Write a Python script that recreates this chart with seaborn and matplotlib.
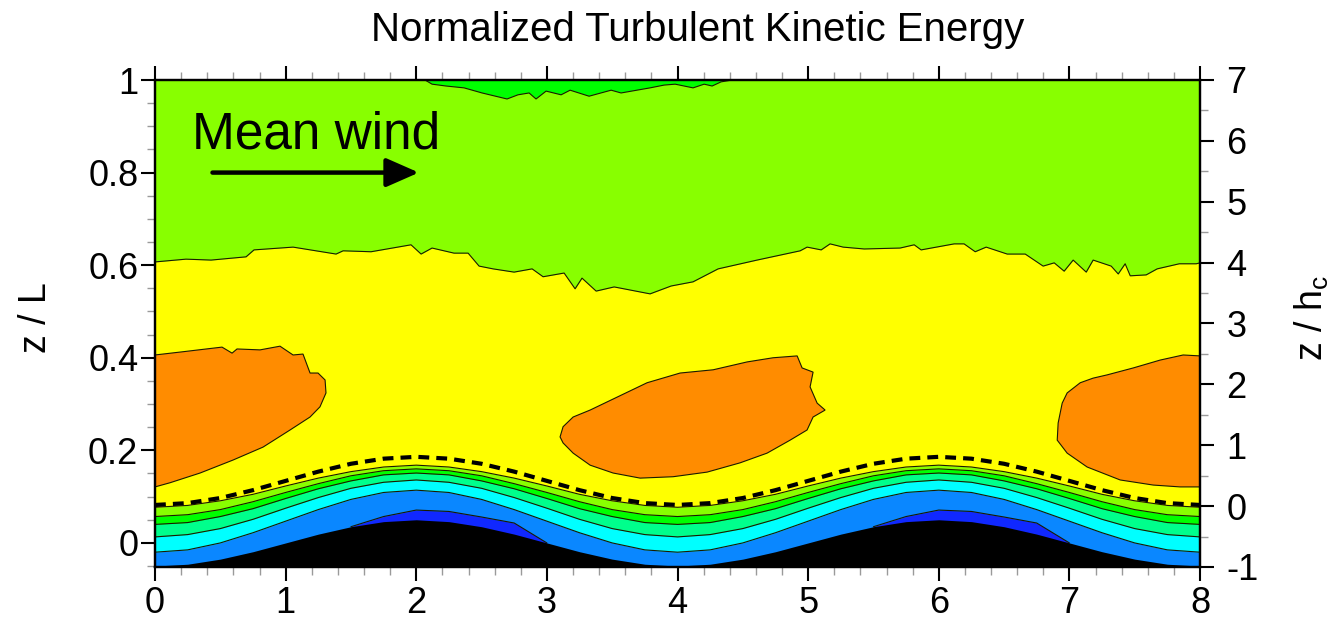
import numpy as np
import matplotlib
matplotlib.use("Agg")
import matplotlib.pyplot as plt
from matplotlib.ticker import MultipleLocator
import seaborn as sns

# ---------------- data ----------------
title = "Normalized Turbulent Kinetic Energy"
annot_text = "Mean wind"
left_label = "z / L"
right_label = "z / h$_\\mathregular{c}$"
x_ticks = [0, 1, 2, 3, 4, 5, 6, 7, 8]
x_ticklabels = ["0", "1", "2", "3", "4", "5", "6", "7", "8"]
zL_ticks = [0, 0.2, 0.4, 0.6, 0.8, 1.0]
zL_ticklabels = ["0", "0.2", "0.4", "0.6", "0.8", "1"]
zh_ticks = [-1, 0, 1, 2, 3, 4, 5, 6, 7]
zh_ticklabels = ["-1", "0", "1", "2", "3", "4", "5", "6", "7"]

# sample positions along x (every 0.25 L)
x_grid = np.linspace(0, 8, 33)

terrain = [-0.050, -0.046, -0.035, -0.019, 0.000, 0.019, 0.035, 0.046, 0.050, 0.046, 0.035,
           0.019, 0.000, -0.019, -0.035, -0.046, -0.050, -0.046, -0.035, -0.019, 0.000, 0.019,
           0.035, 0.046, 0.050, 0.046, 0.035, 0.019, 0.000, -0.019, -0.035, -0.046, -0.050]
blue_top = [-0.020, -0.015, 0.000, 0.022, 0.047, 0.072, 0.094, 0.109, 0.114, 0.109, 0.094,
            0.072, 0.047, 0.022, 0.000, -0.015, -0.020, -0.015, 0.000, 0.022, 0.047, 0.072,
            0.094, 0.109, 0.114, 0.109, 0.094, 0.072, 0.047, 0.022, 0.000, -0.015, -0.020]
cyan_top = [0.013, 0.018, 0.031, 0.051, 0.075, 0.098, 0.118, 0.131, 0.136, 0.131, 0.118,
            0.098, 0.075, 0.051, 0.031, 0.018, 0.013, 0.018, 0.031, 0.051, 0.075, 0.098,
            0.118, 0.131, 0.136, 0.131, 0.118, 0.098, 0.075, 0.051, 0.031, 0.018, 0.013]
aqua_top = [0.040, 0.044, 0.057, 0.074, 0.096, 0.117, 0.134, 0.147, 0.151, 0.147, 0.134,
            0.117, 0.096, 0.074, 0.057, 0.044, 0.040, 0.044, 0.057, 0.074, 0.096, 0.117,
            0.134, 0.147, 0.151, 0.147, 0.134, 0.117, 0.096, 0.074, 0.057, 0.044, 0.040]
green_top = [0.057, 0.061, 0.072, 0.089, 0.109, 0.128, 0.145, 0.156, 0.160, 0.156, 0.145,
             0.128, 0.109, 0.089, 0.072, 0.061, 0.057, 0.061, 0.072, 0.089, 0.109, 0.128,
             0.145, 0.156, 0.160, 0.156, 0.145, 0.128, 0.109, 0.089, 0.072, 0.061, 0.057]
lgreen_top = [0.077, 0.081, 0.091, 0.105, 0.123, 0.140, 0.154, 0.164, 0.168, 0.164, 0.154,
              0.140, 0.123, 0.105, 0.091, 0.081, 0.077, 0.081, 0.091, 0.105, 0.123, 0.140,
              0.154, 0.164, 0.168, 0.164, 0.154, 0.140, 0.123, 0.105, 0.091, 0.081, 0.077]
canopy_top = [0.082, 0.086, 0.097, 0.114, 0.134, 0.154, 0.171, 0.182, 0.186, 0.182, 0.171,
              0.154, 0.134, 0.114, 0.097, 0.086, 0.082, 0.086, 0.097, 0.114, 0.134, 0.154,
              0.171, 0.182, 0.186, 0.182, 0.171, 0.154, 0.134, 0.114, 0.097, 0.086, 0.082]

# thin dark-blue patches on the hill crests
dblue1_x = [1.5, 1.75, 2.0, 2.25, 2.5, 2.75, 3.0]
dblue2_x = [5.5, 5.75, 6.0, 6.25, 6.5, 6.75, 7.0]
dblue_top = [0.035, 0.057, 0.071, 0.068, 0.056, 0.043, 0.000]

# boundary between yellow (below) and light green (above)
gy_x = [0.0, 0.237, 0.429, 0.697, 0.758, 1.057, 1.386, 1.440, 1.654, 1.960, 2.037, 2.121,
        2.289, 2.397, 2.481, 2.588, 2.749, 2.887, 2.971, 3.132, 3.216, 3.269, 3.377, 3.515,
        3.790, 3.951, 4.119, 4.311, 4.609, 4.939, 4.992, 5.100, 5.168, 5.268, 5.429, 5.704,
        5.812, 5.865, 6.118, 6.194, 6.279, 6.363, 6.524, 6.662, 6.799, 6.884, 6.960, 7.029,
        7.129, 7.182, 7.320, 7.374, 7.427, 7.466, 7.588, 7.672, 7.841, 7.971, 8.0]
gy_z = [0.607, 0.613, 0.611, 0.618, 0.633, 0.639, 0.624, 0.631, 0.629, 0.644, 0.624, 0.637,
        0.626, 0.626, 0.598, 0.592, 0.585, 0.592, 0.575, 0.583, 0.549, 0.572, 0.544, 0.553,
        0.538, 0.555, 0.564, 0.592, 0.611, 0.631, 0.639, 0.633, 0.646, 0.639, 0.635, 0.637,
        0.644, 0.633, 0.646, 0.646, 0.629, 0.639, 0.624, 0.624, 0.598, 0.605, 0.587, 0.611,
        0.585, 0.611, 0.598, 0.581, 0.603, 0.577, 0.579, 0.592, 0.603, 0.603, 0.605]

# green strip touching the top of the domain
strip_x = [2.067, 2.121, 2.228, 2.366, 2.504, 2.695, 2.779, 2.864, 2.917, 2.994, 3.109,
           3.178, 3.323, 3.492, 3.568, 3.790, 3.897, 3.982, 4.119, 4.204, 4.265, 4.334, 4.418]
strip_z = [1.0, 0.991, 0.987, 0.983, 0.972, 0.959, 0.968, 0.972, 0.959, 0.976, 0.968,
           0.978, 0.965, 0.978, 0.972, 0.983, 0.989, 0.991, 0.983, 0.991, 0.987, 0.996, 1.0]

# orange (high TKE) regions
blob1_x = [0.0, 0.214, 0.513, 0.590, 0.628, 0.804, 0.957, 1.057, 1.133, 1.187, 1.248, 1.302,
           1.309, 1.263, 1.187, 1.034, 0.827, 0.597, 0.345, 0.115, 0.0]
blob1_z = [0.406, 0.413, 0.423, 0.410, 0.419, 0.417, 0.425, 0.406, 0.408, 0.367, 0.367, 0.352,
           0.324, 0.294, 0.272, 0.244, 0.207, 0.179, 0.151, 0.130, 0.121]
blob2_x = [3.101, 3.124, 3.201, 3.331, 3.538, 3.767, 4.020, 4.273, 4.533, 4.732, 4.916, 4.954,
           5.038, 5.015, 5.069, 5.130, 5.038, 4.992, 4.862, 4.686, 4.479, 4.227, 3.966, 3.714,
           3.507, 3.331, 3.201, 3.124]
blob2_z = [0.229, 0.251, 0.272, 0.287, 0.315, 0.346, 0.367, 0.374, 0.391, 0.400, 0.404, 0.378,
           0.369, 0.337, 0.302, 0.287, 0.272, 0.244, 0.222, 0.194, 0.173, 0.153, 0.143, 0.140,
           0.151, 0.168, 0.194, 0.216]
blob3_x = [8.0, 7.871, 7.695, 7.489, 7.289, 7.182, 7.083, 6.983, 6.945, 6.914, 6.907, 6.983,
           7.136, 7.389, 7.642, 7.848, 8.0]
blob3_z = [0.404, 0.406, 0.395, 0.378, 0.363, 0.356, 0.346, 0.324, 0.302, 0.259, 0.222, 0.194,
           0.164, 0.136, 0.125, 0.121, 0.121]

# ---------------- style ----------------
sns.set_theme(style="ticks")
plt.rcParams["font.family"] = ["Liberation Sans", "DejaVu Sans"]
plt.rcParams["mathtext.fontset"] = "custom"
plt.rcParams["mathtext.rm"] = "Liberation Sans"
plt.rcParams["text.color"] = "black"
plt.rcParams["axes.labelcolor"] = "black"
plt.rcParams["xtick.color"] = "black"
plt.rcParams["ytick.color"] = "black"

C_LGREEN = "#88ff00"
C_GREEN = "#00ff00"
C_AQUA = "#00ff8c"
C_CYAN = "#00ffff"
C_BLUE = "#0a87ff"
C_DBLUE = "#1028ff"
C_YELLOW = "#ffff00"
C_ORANGE = "#ff8c00"
LINE_C = "#1a1a00"
LW = 0.8

fig = plt.figure(figsize=(13.31, 6.21), dpi=100)
ax = fig.add_axes([155 / 1331, 1 - 567 / 621, (1200 - 155) / 1331, (567 - 80) / 621])

ymin, ymax = -0.052, 1.0
ax.set_xlim(0, 8)
ax.set_ylim(ymin, ymax)

# background (light green) and yellow layer
ax.fill_between([0, 8], ymin, ymax, color=C_LGREEN, lw=0, zorder=1)
ax.fill_between(gy_x, ymin, gy_z, color=C_YELLOW, lw=0, zorder=2)
ax.plot(gy_x, gy_z, color=LINE_C, lw=LW, zorder=3)

# green strip at top
ax.fill(strip_x, strip_z, color=C_GREEN, lw=0, zorder=3)
ax.plot(strip_x, strip_z, color=LINE_C, lw=LW, zorder=3)

# orange regions
for bx, bz in [(blob1_x, blob1_z), (blob2_x, blob2_z), (blob3_x, blob3_z)]:
    ax.fill(bx, bz, facecolor=C_ORANGE, edgecolor=LINE_C, lw=LW, zorder=4)

# near-terrain layers (painter's order, top to bottom)
layers = [(lgreen_top, C_LGREEN), (green_top, C_GREEN), (aqua_top, C_AQUA),
          (cyan_top, C_CYAN), (blue_top, C_BLUE)]
z = 5
for top, col in layers:
    ax.fill_between(x_grid, ymin, top, color=col, lw=0, zorder=z)
    ax.plot(x_grid, top, color=LINE_C, lw=LW, zorder=z + 0.5)
    z += 1
for dx in (dblue1_x, dblue2_x):
    ax.fill_between(dx, ymin, dblue_top, color=C_DBLUE, lw=0, zorder=z)
    ax.plot(dx, dblue_top, color=LINE_C, lw=LW, zorder=z + 0.5)
z += 1
ax.fill_between(x_grid, ymin - 0.01, terrain, color="black", lw=0, zorder=z)

# canopy top (dashed)
sns.lineplot(x=x_grid, y=canopy_top, ax=ax, color="black", lw=3.0,
             linestyle=(0, (2.6, 1.7)), zorder=z + 1)

# annotation
ax.text(0.28, 0.853, annot_text, fontsize=37, color="black", va="baseline", ha="left", zorder=20)
ax.annotate("", xy=(2.02, 0.80), xytext=(0.44, 0.80),
            arrowprops=dict(arrowstyle="-|>,head_length=0.5,head_width=0.22",
                            lw=3.2, color="black", mutation_scale=40,
                            shrinkA=0, shrinkB=0), zorder=20)

# ---------------- axes / ticks ----------------
for sp in ax.spines.values():
    sp.set_linewidth(1.6)
    sp.set_color("black")
    sp.set_visible(True)
    sp.set_zorder(30)

ax.set_xticks(x_ticks)
ax.set_xticklabels(x_ticklabels)
ax.set_yticks(zL_ticks)
ax.set_yticklabels(zL_ticklabels)
ax.xaxis.set_minor_locator(MultipleLocator(0.2))
ax.yaxis.set_minor_locator(MultipleLocator(0.05))
ax.tick_params(axis="both", which="major", direction="out", length=10, width=1.5,
               color="black", labelsize=26, labelcolor="black")
ax.tick_params(axis="both", which="minor", direction="out", length=6, width=1.0,
               color="#9a9a9a")
ax.tick_params(axis="x", which="both", top=True, labeltop=False, bottom=True)
ax.tick_params(axis="x", which="major", pad=4)
ax.tick_params(axis="y", which="both", left=True, right=False)
ax.tick_params(axis="y", which="major", pad=2)
ax.set_xlabel("")
ax.set_ylabel("")

ax2 = ax.twinx()
ax2.set_ylim(-1, 7)
ax2.set_yticks(zh_ticks)
ax2.set_yticklabels(zh_ticklabels)
ax2.yaxis.set_minor_locator(MultipleLocator(0.5))
ax2.tick_params(axis="y", which="major", direction="out", length=10, width=1.5,
                color="black", labelsize=26, labelcolor="black", pad=9)
ax2.tick_params(axis="y", which="minor", direction="out", length=6, width=1.0,
                color="#9a9a9a")
for sp in ax2.spines.values():
    sp.set_linewidth(1.6)
    sp.set_color("black")
ax2.set_ylabel("")

fig.text(698 / 1331, 1 - 30 / 621, title, fontsize=29, color="black", ha="center", va="center")
fig.text(36 / 1331, 1 - 318 / 621, left_label, fontsize=27, color="black", rotation=90,
         ha="center", va="center")
fig.text(1312 / 1331, 1 - 318 / 621, right_label, fontsize=27, color="black", rotation=90,
         ha="center", va="center")

fig.savefig("out.png", dpi=100)
